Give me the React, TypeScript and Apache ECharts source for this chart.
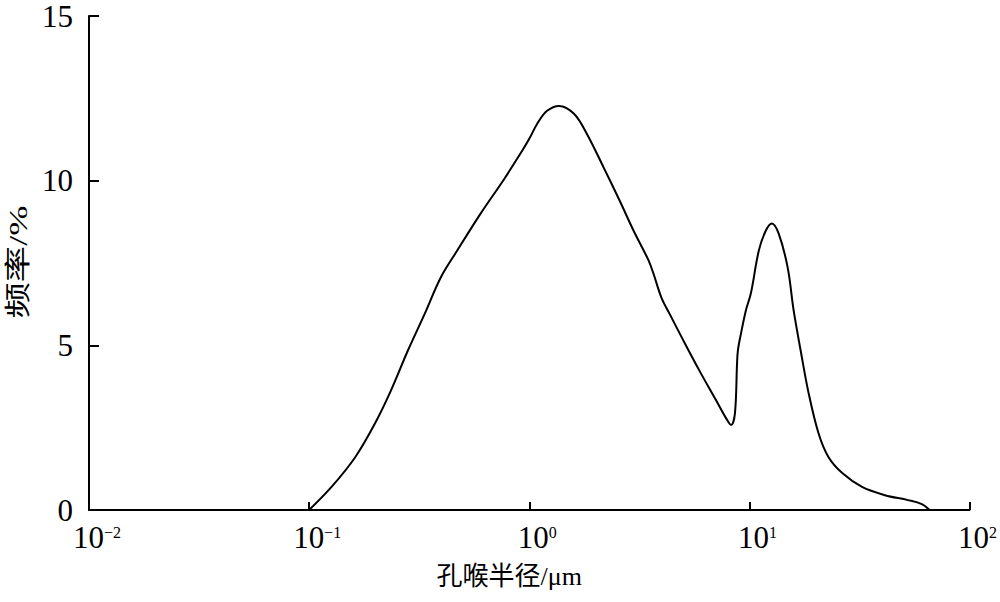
import React, { useEffect, useRef } from "react";
import * as echarts from "echarts";

// 孔喉半径 (μm)
const radius = [
  0.1, 0.1264, 0.1622, 0.1996, 0.2358, 0.2813, 0.3357, 0.3963, 0.473, 0.601,
  0.771, 0.929, 1.0, 1.087, 1.205, 1.366, 1.597, 1.828, 2.181, 2.576, 2.979,
  3.483, 3.666, 3.984, 4.33, 5.01, 5.92, 7.06, 7.83, 8.26, 8.6, 8.79, 8.87,
  9.16, 9.64, 10.16, 11.04, 11.87, 12.64, 13.59, 14.93, 15.89, 17.09, 18.58,
  20.61, 22.86, 26.42, 32.5, 41.3, 52.5, 60.7, 65.9,
];
// 频率 (%)
const freq = [
  0, 0.7, 1.61, 2.64, 3.64, 4.85, 5.97, 7.06, 7.9, 9.0, 10.06, 10.91, 11.27,
  11.73, 12.12, 12.27, 12.03, 11.42, 10.39, 9.39, 8.48, 7.58, 7.18, 6.45, 5.97,
  5.15, 4.24, 3.33, 2.79, 2.58, 2.94, 4.45, 4.85, 5.36, 6.06, 6.58, 7.88, 8.48,
  8.7, 8.39, 7.36, 6.06, 4.85, 3.55, 2.33, 1.61, 1.12, 0.7, 0.45, 0.3, 0.18, 0,
];

const xMin = 0.01;
const xMax = 100;
const yMin = 0;
const yMax = 15;
const yInterval = 5;

const xTitle = "孔喉半径/μm";
const yTitle = "频率/%";

const FONT = "'Liberation Serif', 'Noto Sans CJK SC', serif";

export default function App() {
  const ref = useRef<HTMLDivElement>(null);
  useEffect(() => {
    if (!ref.current) return;
    const chart = echarts.init(ref.current, undefined, { renderer: "svg" });
    const data = radius.map((r, i) => [r, freq[i]]);
    chart.setOption({
      animation: false,
      backgroundColor: "#ffffff",
      grid: { left: 89, right: 27, top: 16, bottom: 92 },
      xAxis: {
        type: "log",
        logBase: 10,
        min: xMin,
        max: xMax,
        interval: 1,
        name: xTitle,
        nameLocation: "middle",
        nameGap: 53,
        nameTextStyle: { fontFamily: FONT, fontSize: 26, color: "#000", padding: [0, 40, 0, 0] },
        axisLine: { lineStyle: { color: "#000", width: 2 } },
        axisTick: { inside: true, length: 8, lineStyle: { color: "#000", width: 2 } },
        splitLine: { show: false },
        minorTick: { show: false },
        axisLabel: {
          margin: 11,
          padding: [0, 0, 0, 16],
          formatter: (v: number) => {
            const e = Math.round(Math.log10(v));
            const s = e < 0 ? "\u2212" + String(-e) : String(e);
            return `{b|10}{s|${s}}`;
          },
          rich: {
            b: { fontFamily: FONT, fontSize: 31, color: "#000", lineHeight: 32, verticalAlign: "bottom" },
            s: { fontFamily: FONT, fontSize: 16, color: "#000", lineHeight: 32, verticalAlign: "top", padding: [3, 0, 0, 0] },
          },
        },
      },
      yAxis: {
        type: "value",
        min: yMin,
        max: yMax,
        interval: yInterval,
        axisLine: { show: true, lineStyle: { color: "#000", width: 2 } },
        axisTick: { show: true, inside: true, length: 10, lineStyle: { color: "#000", width: 2 } },
        splitLine: { show: false },
        axisLabel: { margin: 16, fontFamily: FONT, fontSize: 31, color: "#000" },
      },
      graphic: [
        {
          type: "text",
          x: 18,
          y: 262,
          rotation: Math.PI / 2,
          scaleX: 1.4,
          style: {
            text: yTitle,
            font: `26px ${FONT}`,
            fill: "#000",
            textAlign: "center",
            textVerticalAlign: "middle",
          },
        },
      ],
      series: [
        {
          type: "line",
          data,
          smooth: 0.35,
          showSymbol: false,
          symbol: "none",
          lineStyle: { color: "#000", width: 2 },
        },
      ],
    });
    return () => chart.dispose();
  }, []);
  return (
    <div
      ref={ref}
      style={{ position: "absolute", left: 0, top: 0, width: 1000, height: 602, background: "#fff" }}
    />
  );
}
